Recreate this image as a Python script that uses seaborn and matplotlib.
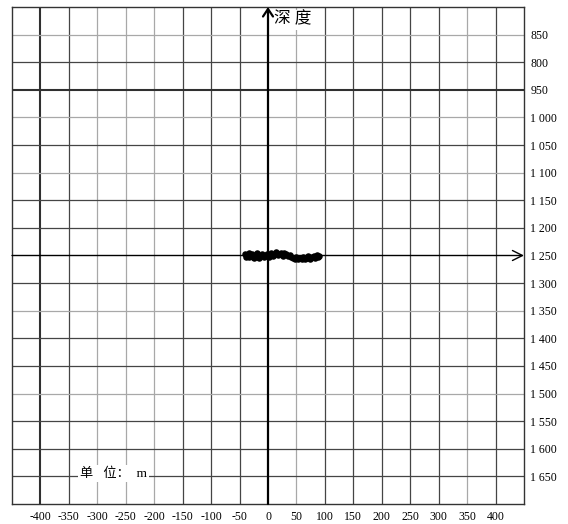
import matplotlib
matplotlib.use("Agg")
import matplotlib.pyplot as plt
import seaborn as sns
import pandas as pd

# ---- data ----
x_ticks = [-400, -350, -300, -250, -200, -150, -100, -50, 0, 50, 100, 150, 200, 250, 300, 350, 400]
x_tick_labels = ["-400", "-350", "-300", "-250", "-200", "-150", "-100", "-50", "0", "50",
                 "100", "150", "200", "250", "300", "350", "400"]
depth_ticks = [850, 900, 950, 1000, 1050, 1100, 1150, 1200, 1250, 1300, 1350, 1400,
               1450, 1500, 1550, 1600, 1650]
depth_tick_labels = ["850", "800", "950", "1 000", "1 050", "1 100", "1 150", "1 200", "1 250",
                     "1 300", "1 350", "1 400", "1 450", "1 500", "1 550", "1 600", "1 650"]
points_x = [-40, -38, -36, -34, -33, -31, -29, -27, -25, -22, -20, -18, -15, -12, -10, -7,
            -5, -2, 1, 3, 6, 9, 12, 14, 17, 20, 23, 26, 29, 32, 35, 38, 41, 44, 47, 50,
            53, 56, 59, 62, 65, 68, 71, 74, 77, 80, 83, 86, 88, 89]
points_depth = [1247, 1252, 1249, 1246, 1253, 1250, 1247, 1252, 1254, 1250, 1246, 1253, 1255,
                1251, 1248, 1253, 1250, 1248, 1252, 1249, 1246, 1251, 1248, 1244, 1249, 1247,
                1245, 1250, 1246, 1248, 1251, 1249, 1252, 1254, 1256, 1253, 1257, 1254, 1256,
                1252, 1257, 1254, 1251, 1256, 1253, 1250, 1254, 1249, 1252, 1250]
x_label_text = "深 度"
unit_text = "单   位：  m"

# ---- style ----
sns.set_theme(style="white")
plt.rcParams['font.family'] = ['Liberation Serif', 'Noto Sans CJK SC', 'DejaVu Sans']

gray_x = {-300, -250, -200, 50, 350}
gray_y = {850, 1000, 1100, 1350, 1500}

fig = plt.figure(figsize=(5.68, 5.24), dpi=100)
W, H = 568, 524
ax = fig.add_axes([12 / W, 1 - 504 / H, (524 - 12) / W, (504 - 7) / H])
ax.set_xlim(-450, 450)
ax.set_ylim(1700, 800)

for v in x_ticks:
    if v == 0:
        continue
    if v == -400:
        ax.axvline(v, color='#303030', lw=1.5, zorder=1)
    else:
        ax.axvline(v, color='#a8a8a8' if v in gray_x else '#454545', lw=0.9, zorder=1)
for v in depth_ticks:
    if v == 1250:
        continue
    if v == 950:
        ax.axhline(v, color='#303030', lw=1.5, zorder=1)
    else:
        ax.axhline(v, color='#a8a8a8' if v in gray_y else '#454545', lw=0.9, zorder=1)

# axes with arrows
ax.annotate('', xy=(450, 1250), xytext=(-450, 1250), xycoords='data',
            arrowprops=dict(arrowstyle='->,head_length=0.6,head_width=0.3', lw=1.0,
                            color='black', shrinkA=0, shrinkB=0),
            annotation_clip=False, zorder=6)
ax.annotate('', xy=(0, 800), xytext=(0, 1700), xycoords='data',
            arrowprops=dict(arrowstyle='->,head_length=0.45,head_width=0.3', lw=1.6,
                            color='black', shrinkA=0, shrinkB=0),
            annotation_clip=False, zorder=6)

df = pd.DataFrame({"x": points_x, "depth": points_depth})
sns.scatterplot(data=df, x="x", y="depth", ax=ax, color='black', s=22, linewidth=0,
                zorder=4, legend=False)

ax.set_xticks(x_ticks)
ax.set_xticklabels(x_tick_labels)
ax.set_yticks(depth_ticks)
ax.set_yticklabels(depth_tick_labels)
ax.yaxis.tick_right()
ax.tick_params(axis='both', length=0, labelsize=8.5, colors='black')
ax.tick_params(axis='x', pad=5)
ax.tick_params(axis='y', pad=4.5)
ax.set_xlabel('')
ax.set_ylabel('')

for s in ax.spines.values():
    s.set_color('#333333')
    s.set_linewidth(1.0)
    s.set_visible(True)

ax.text(10, 823, x_label_text, fontsize=12, ha='left', va='center', color='black',
        bbox=dict(facecolor='white', edgecolor='none', pad=1.5), zorder=5, clip_on=False)
ax.text(-330, 1645, unit_text, fontsize=9.5, ha='left', va='center', color='black',
        bbox=dict(facecolor='white', edgecolor='none', pad=1.5), zorder=5)

fig.savefig('out.png', dpi=100)
